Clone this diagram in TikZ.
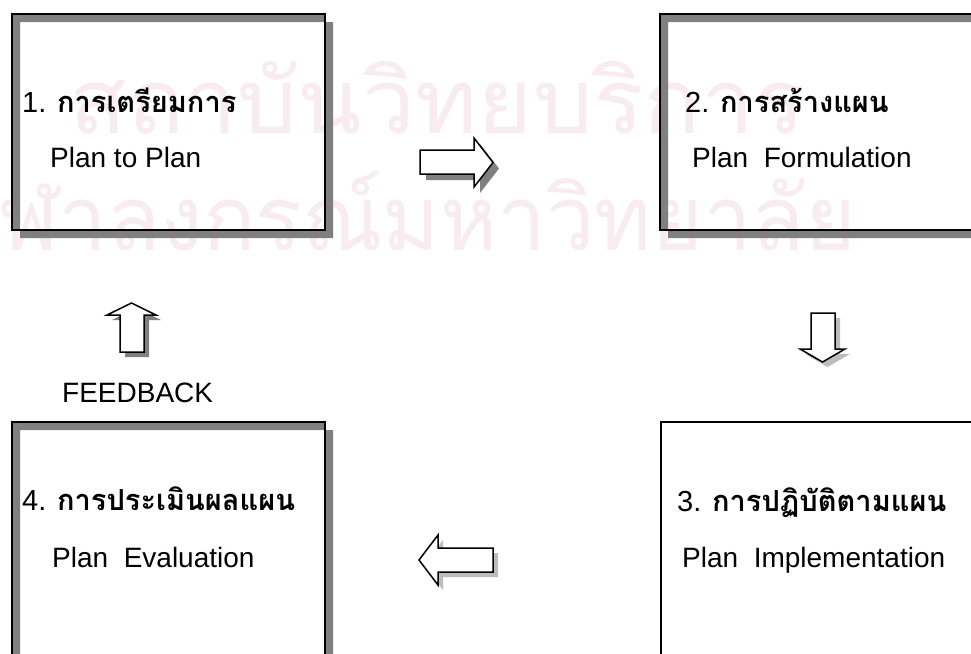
\documentclass[tikz,border=0pt]{standalone}
\usepackage{fontspec}
\setmainfont{Liberation Sans}
\newfontfamily\thaifont[Script=Thai]{Loma}
\definecolor{wm}{HTML}{F8ECF1}
\definecolor{shd}{HTML}{808080}
\definecolor{shdl}{HTML}{BDBDBD}
\tikzset{
  boxline/.style={draw=black, line width=1.5pt},
  boxshadow/.style={fill=shd, even odd rule},
  blockarrow/.style={draw=black, line width=1.5pt, fill=white, line join=miter},
  arrowshadow/.style={fill=shd},
  arrowshadowlight/.style={fill=shdl},
  thaititle/.style={anchor=base west, inner sep=0pt, font=\fontsize{29}{31}\selectfont},
  engsub/.style={anchor=base west, inner sep=0pt, font=\fontsize{28}{30}\selectfont},
  wmtext/.style={anchor=base east, inner sep=0pt, text=wm, font=\thaifont\fontsize{90}{95}\selectfont}
}
\begin{document}
\begin{tikzpicture}[x=1pt,y=-1pt]
\useasboundingbox (0,0) rectangle (971,653);
\clip (0,0) rectangle (971,653);
\fill[white] (0,0) rectangle (971,653);
% watermark
\node[wmtext] (wm1) at (805,133) {\scalebox{1.05}[1]{สถาบันวิทยบริการ}};
\node[wmtext] (wm2) at (856,250) {\scalebox{0.965}[1]{จุฬาลงกรณ์มหาวิทยาลัย}};
% box corners
\coordinate (b1a) at (12,14);  \coordinate (b1b) at (325,230);
\coordinate (b2a) at (660,14); \coordinate (b2b) at (995,230);
\coordinate (b3a) at (661,422); \coordinate (b3b) at (995,700);
\coordinate (b4a) at (12,422); \coordinate (b4b) at (325,700);
% shadows
\fill[boxshadow] ([shift={(8,8)}]b1a) rectangle ([shift={(8,8)}]b1b) (b1a) rectangle (b1b);
\fill[boxshadow] ([shift={(8,8)}]b2a) rectangle ([shift={(8,8)}]b2b) (b2a) rectangle (b2b);
\fill[boxshadow] ([shift={(8,8)}]b4a) rectangle ([shift={(8,8)}]b4b) (b4a) rectangle (b4b);
% boxes
\draw[boxline] (b1a) rectangle (b1b);
\draw[boxline] (b2a) rectangle (b2b);
\draw[boxline] (b3a) rectangle (b3b);
\draw[boxline] (b4a) rectangle (b4b);
% right arrow
\fill[arrowshadow,shift={(6,6)}] (420,150) -- (474,150) -- (474,138) -- (493,162.5) -- (474,187) -- (474,174) -- (420,174) -- cycle;
\draw[blockarrow] (420,150) -- (474,150) -- (474,138) -- (493,162.5) -- (474,187) -- (474,174) -- (420,174) -- cycle;
% down arrow
\fill[arrowshadowlight,shift={(5,5)}] (811,313) -- (835,313) -- (835,349) -- (845,349) -- (822.5,362) -- (800,349) -- (811,349) -- cycle;
\draw[blockarrow] (811,313) -- (835,313) -- (835,349) -- (845,349) -- (822.5,362) -- (800,349) -- (811,349) -- cycle;
% left arrow
\fill[arrowshadowlight,shift={(5,5)}] (419,560) -- (438,535) -- (438,548) -- (493,548) -- (493,572) -- (438,572) -- (438,585) -- cycle;
\draw[blockarrow] (419,560) -- (438,535) -- (438,548) -- (493,548) -- (493,572) -- (438,572) -- (438,585) -- cycle;
% up arrow
\fill[arrowshadow,shift={(5,5)}] (131.5,303) -- (156,315) -- (144,315) -- (144,352) -- (120,352) -- (120,315) -- (107,315) -- cycle;
\draw[blockarrow] (131.5,303) -- (156,315) -- (144,315) -- (144,352) -- (120,352) -- (120,315) -- (107,315) -- cycle;
% texts
\node[thaititle] (t1) at (22,112) {1. {\thaifont\bfseries การเตรียมการ}};
\node[engsub] (e1) at (50,167) {Plan to Plan};
\node[thaititle] (t2) at (685,112) {2. {\thaifont\bfseries การสร้างแผน}};
\node[engsub] (e2) at (692,167) {Plan\ \ Formulation};
\node[thaititle] (t3) at (677,511) {3. {\thaifont\bfseries การปฏิบัติตามแผน}};
\node[engsub] (e3) at (682,567) {Plan\ \ Implementation};
\node[thaititle] (t4) at (22,510) {4. {\thaifont\bfseries การประเมินผลแผน}};
\node[engsub] (e4) at (52,567) {Plan\ \ Evaluation};
\node[engsub] (fb) at (62,402) {FEEDBACK};
\end{tikzpicture}
\end{document}
